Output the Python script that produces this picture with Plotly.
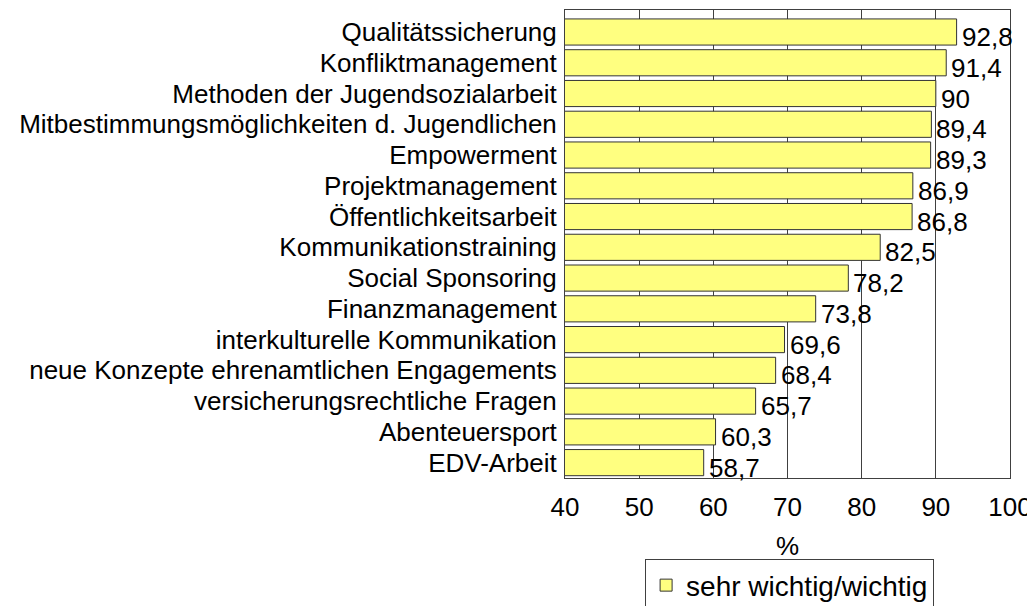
import plotly.graph_objects as go

categories = ["Qualitätssicherung", "Konfliktmanagement", "Methoden der Jugendsozialarbeit",
              "Mitbestimmungsmöglichkeiten d. Jugendlichen", "Empowerment", "Projektmanagement",
              "Öffentlichkeitsarbeit", "Kommunikationstraining", "Social Sponsoring",
              "Finanzmanagement", "interkulturelle Kommunikation",
              "neue Konzepte ehrenamtlichen Engagements", "versicherungsrechtliche Fragen",
              "Abenteuersport", "EDV-Arbeit"]
values = [92.8, 91.4, 90, 89.4, 89.3, 86.9, 86.8, 82.5, 78.2, 73.8, 69.6, 68.4, 65.7, 60.3, 58.7]
x_ticks = [40, 50, 60, 70, 80, 90, 100]
series_name = "sehr wichtig/wichtig"

font = "Liberation Sans, Arial, sans-serif"
FS = 26

def fmt(v):
    return (f"{v:g}").replace(".", ",")

fig = go.Figure()
fig.add_trace(go.Bar(
    y=categories, x=values, orientation="h", name=series_name,
    marker=dict(color="#FFFF80", line=dict(color="#333333", width=1)),
    showlegend=True,
))
for c, v in zip(categories, values):
    fig.add_annotation(x=v, y=c, text=fmt(v), showarrow=False, xanchor="left",
                       xshift=3, yshift=-5, font=dict(size=FS, color="black", family=font))

fig.update_layout(
    width=1027, height=598,
    margin=dict(l=557, r=25, t=2, b=128, autoexpand=False),
    paper_bgcolor="white", plot_bgcolor="white",
    separators=",.",
    bargap=0.15,
    font=dict(family=font, size=FS, color="black"),
    xaxis=dict(range=[40, 100], tickvals=x_ticks, ticks="", showgrid=True,
               gridcolor="#404040", gridwidth=1, showline=True, linecolor="#404040",
               linewidth=1, mirror=True, zeroline=False, ticklabelstandoff=6,
               automargin=False,
               title=dict(text="%", font=dict(size=FS), standoff=15),
               tickfont=dict(size=FS)),
    yaxis=dict(autorange="reversed", showline=True, linecolor="#404040", linewidth=1,
               mirror=True, ticks="", tickfont=dict(size=FS), ticklabelstandoff=2,
               tickmode="array", tickvals=categories, ticktext=categories,
               automargin=False),
    legend=dict(x=0.18, y=-0.174, xanchor="left", yanchor="top",
                bordercolor="#404040", borderwidth=1, bgcolor="white",
                font=dict(size=28)),
)
fig.write_html("out.html")
